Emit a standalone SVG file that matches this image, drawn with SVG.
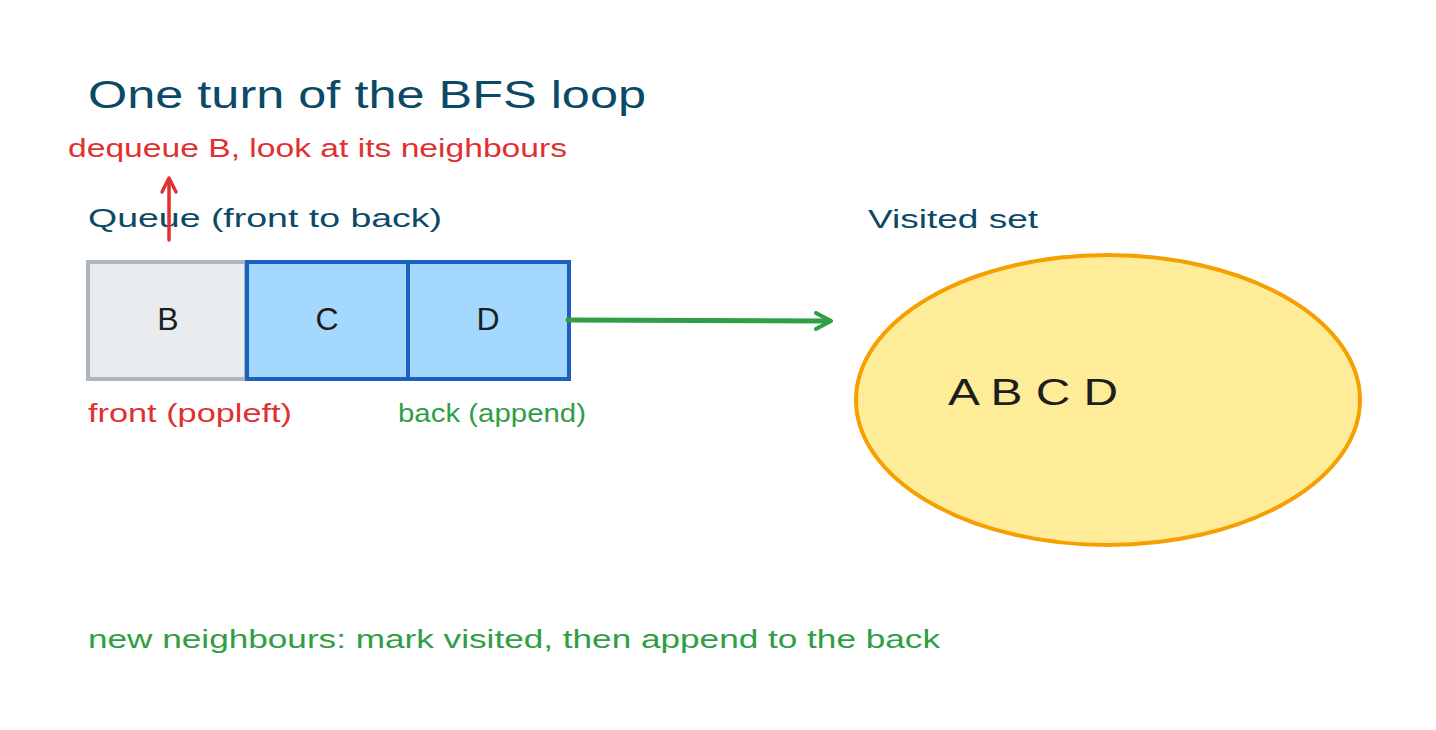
<svg xmlns="http://www.w3.org/2000/svg" width="1436" height="730" viewBox="0 0 1436 730">
<style>
text{font-family:"Liberation Sans","DejaVu Sans",sans-serif}
.ttl{fill:#0b4a66}
.red{fill:#e03131}
.grn{fill:#2f9e44}
.lbl{fill:#1e1e1e;text-anchor:middle}
</style>
<defs>
<marker id="arrG" viewBox="0 0 20 20" refX="16" refY="10" markerWidth="20" markerHeight="20" markerUnits="userSpaceOnUse" orient="auto">
<path d="M2,2 L17,10 L2,18" fill="none" stroke="#2f9e44" stroke-width="4" stroke-linecap="round" stroke-linejoin="round"/>
</marker>
<marker id="arrR" viewBox="0 0 20 20" refX="16" refY="10" markerWidth="20" markerHeight="20" markerUnits="userSpaceOnUse" orient="auto">
<path d="M3,3 L17,10 L3,17" fill="none" stroke="#e03131" stroke-width="3.5" stroke-linecap="round" stroke-linejoin="round"/>
</marker>
</defs>
<rect width="1436" height="730" fill="#ffffff"/>
<g id="title"><text class="ttl" x="88" y="108" font-size="38" textLength="558" lengthAdjust="spacingAndGlyphs">One turn of the BFS loop</text></g>
<g id="dequeue-note"><text class="red" x="68" y="157" font-size="25" textLength="499" lengthAdjust="spacingAndGlyphs">dequeue B, look at its neighbours</text></g>
<g id="queue-label"><text class="ttl" x="88" y="227" font-size="25" textLength="354" lengthAdjust="spacingAndGlyphs">Queue (front to back)</text></g>
<g id="visited-label"><text class="ttl" x="868" y="228" font-size="25" textLength="170" lengthAdjust="spacingAndGlyphs">Visited set</text></g>
<g id="node-B">
<rect x="88" y="262" width="158" height="117" fill="#e9ecef" stroke="#adb5bd" stroke-width="4"/>
<text class="lbl" x="168" y="330" font-size="32">B</text>
</g>
<g id="node-C">
<rect x="247" y="262" width="161" height="117" fill="#a5d8ff" stroke="#1c5fbf" stroke-width="4"/>
<text class="lbl" x="327" y="330" font-size="32">C</text>
</g>
<g id="node-D">
<rect x="408" y="262" width="161" height="117" fill="#a5d8ff" stroke="#1c5fbf" stroke-width="4"/>
<text class="lbl" x="488" y="330" font-size="32">D</text>
</g>
<g id="front-label"><text class="red" x="88" y="422" font-size="25" textLength="204" lengthAdjust="spacingAndGlyphs">front (popleft)</text></g>
<g id="back-label"><text class="grn" x="398" y="422" font-size="25" textLength="188" lengthAdjust="spacingAndGlyphs">back (append)</text></g>
<g id="visited-set">
<ellipse cx="1108" cy="400" rx="252" ry="145" fill="#ffec99" stroke="#f59f00" stroke-width="4"/>
<text x="948" y="405" font-size="36" fill="#1e1e1e" textLength="170" lengthAdjust="spacingAndGlyphs">A B C D</text>
</g>
<g id="bottom-note"><text class="grn" x="88" y="648" font-size="25" textLength="852" lengthAdjust="spacingAndGlyphs">new neighbours: mark visited, then append to the back</text></g>
<g id="connectors">
<path d="M568,320 L830,321" fill="none" stroke="#2f9e44" stroke-width="5" stroke-linecap="round" marker-end="url(#arrG)"/>
<path d="M169,240 L169,179" fill="none" stroke="#e03131" stroke-width="3.5" stroke-linecap="round" marker-end="url(#arrR)"/>
</g>
</svg>
